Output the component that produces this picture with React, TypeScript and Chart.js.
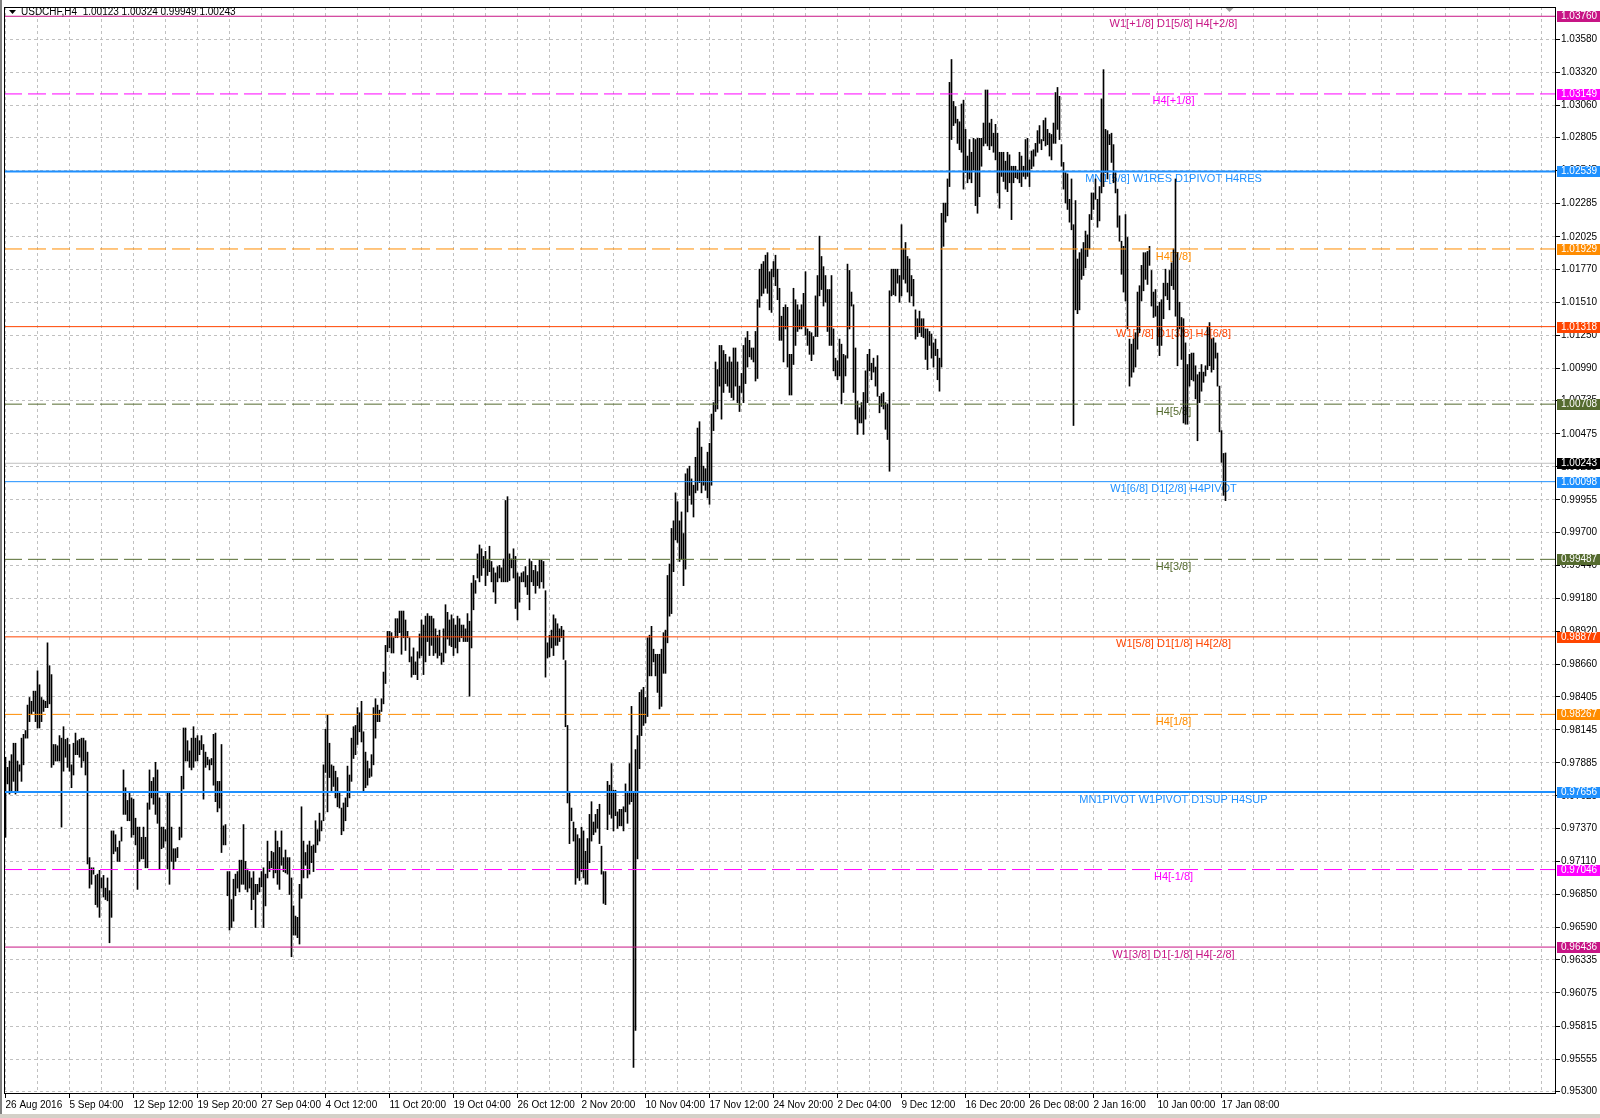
import { useEffect, useRef } from 'react';
import { Chart, registerables } from 'chart.js';

Chart.register(...registerables);

// H4 bars, USDCHF, 26 Aug 2016 .. 17 Jan 2017 (one value per bar)
const highs = [
  0.9793, 0.9785, 0.9790, 0.9795, 0.9804, 0.9804, 0.9790, 0.9787, 0.9808, 0.9811,
  0.9814, 0.9834, 0.9840, 0.9837, 0.9845, 0.9845, 0.9861, 0.9850, 0.9840, 0.9838,
  0.9837, 0.9883, 0.9865, 0.9858, 0.9803, 0.9803, 0.9802, 0.9810, 0.9808, 0.9817,
  0.9807, 0.9808, 0.9803, 0.9787, 0.9804, 0.9812, 0.9806, 0.9807, 0.9808, 0.9808,
  0.9806, 0.9797, 0.9714, 0.9706, 0.9706, 0.9700, 0.9701, 0.9704, 0.9698, 0.9700,
  0.9690, 0.9698, 0.9688, 0.9735, 0.9735, 0.9732, 0.9722, 0.9727, 0.9738, 0.9783,
  0.9769, 0.9759, 0.9765, 0.9761, 0.9760, 0.9745, 0.9738, 0.9738, 0.9730, 0.9738,
  0.9730, 0.9757, 0.9783, 0.9774, 0.9777, 0.9789, 0.9783, 0.9761, 0.9738, 0.9738,
  0.9736, 0.9765, 0.9765, 0.9738, 0.9721, 0.9721, 0.9722, 0.9738, 0.9778, 0.9816,
  0.9816, 0.9806, 0.9798, 0.9808, 0.9817, 0.9808, 0.9810, 0.9806, 0.9810, 0.9803,
  0.9797, 0.9793, 0.9791,
  0.9792, 0.9811, 0.9812, 0.9774, 0.9774, 0.9803, 0.9739, 0.9740, 0.9703, 0.9703,
  0.9681, 0.9697, 0.9701, 0.9703, 0.9712, 0.9712, 0.9740, 0.9711, 0.9705, 0.9703,
  0.9698, 0.9703, 0.9693, 0.9693, 0.9698, 0.9703, 0.9706, 0.9701, 0.9727, 0.9711,
  0.9719, 0.9718, 0.9735, 0.9727, 0.9722, 0.9735, 0.9714, 0.9720, 0.9714, 0.9714,
  0.9698, 0.9676, 0.9668, 0.9667, 0.9693, 0.9754, 0.9727, 0.9718, 0.9724, 0.9727,
  0.9723, 0.9724, 0.9743, 0.9736, 0.9749, 0.9743, 0.9787, 0.9815, 0.9826, 0.9804,
  0.9787, 0.9786, 0.9782, 0.9777, 0.9766, 0.9753, 0.9757, 0.9761, 0.9786, 0.9779,
  0.9808, 0.9817, 0.9818, 0.9832, 0.9828, 0.9837, 0.9813, 0.9797, 0.9790, 0.9784,
  0.9795, 0.9832, 0.9839, 0.9834, 0.9830, 0.9839, 0.9860, 0.9881, 0.9892, 0.9892,
  0.9891, 0.9887, 0.9902, 0.9902, 0.9908, 0.9908, 0.9908, 0.9901, 0.9892, 0.9887,
  0.9872, 0.9879, 0.9868, 0.9876, 0.9890, 0.9901, 0.9897, 0.9904, 0.9906, 0.9904,
  0.9904, 0.9902, 0.9894, 0.9889, 0.9893, 0.9875, 0.9894, 0.9913, 0.9907, 0.9901,
  0.9905, 0.9902, 0.9897, 0.9904, 0.9902, 0.9897, 0.9897, 0.9894, 0.9906, 0.9900,
  0.9930, 0.9936, 0.9932, 0.9953, 0.9960, 0.9957, 0.9951, 0.9955, 0.9948, 0.9959,
  0.9947, 0.9942, 0.9938, 0.9943, 0.9944, 0.9942, 0.9949, 0.9995, 0.9998, 0.9953,
  0.9949, 0.9957, 0.9951, 0.9938, 0.9935, 0.9938, 0.9939, 0.9943, 0.9936, 0.9949,
  0.9947, 0.9940, 0.9944, 0.9939, 0.9948, 0.9948, 0.9947, 0.9924, 0.9883, 0.9889,
  0.9893, 0.9905, 0.9902, 0.9898, 0.9894, 0.9896, 0.9893, 0.9869, 0.9818, 0.9765,
  0.9753, 0.9742, 0.9737, 0.9732, 0.9729, 0.9738, 0.9735, 0.9719, 0.9729, 0.9748,
  0.9758, 0.9742, 0.9748, 0.9752, 0.9756, 0.9723, 0.9703, 0.9703, 0.9774, 0.9771,
  0.9788, 0.9767, 0.9767, 0.9750, 0.9752, 0.9752, 0.9754, 0.9772, 0.9765, 0.9788,
  0.9833, 0.9765, 0.9799, 0.9810, 0.9844, 0.9846, 0.9848, 0.9840, 0.9887, 0.9889,
  0.9896, 0.9878, 0.9874, 0.9874, 0.9874, 0.9878, 0.9891, 0.9893, 0.9936, 0.9945,
  0.9973, 0.9979, 1.0001, 0.9994, 0.9979, 0.9986, 0.9969, 1.0016, 1.0020, 1.0022,
  1.0012, 1.0007, 1.0029, 1.0052, 1.0057, 1.0037, 1.0022, 1.0020, 1.0033, 1.0040,
  1.0063, 1.0072, 1.0104, 1.0098, 1.0117, 1.0117, 1.0113, 1.0110, 1.0104, 1.0108,
  1.0104, 1.0115, 1.0115, 1.0104, 1.0085, 1.0095, 1.0117, 1.0123, 1.0128, 1.0121,
  1.0115, 1.0115, 1.0128, 1.0153, 1.0177, 1.0181, 1.0183, 1.0188, 1.0190, 1.0175,
  1.0177, 1.0183, 1.0188, 1.0177, 1.0162, 1.0140, 1.0147, 1.0149, 1.0147, 1.0110,
  1.0110, 1.0162, 1.0153, 1.0149, 1.0145, 1.0149, 1.0158, 1.0175, 1.0130, 1.0128,
  1.0127, 1.0124, 1.0156, 1.0172, 1.0203, 1.0187, 1.0179, 1.0172, 1.0161, 1.0161,
  1.0172, 1.0130, 1.0107, 1.0105, 1.0122, 1.0118, 1.0110, 1.0109, 1.0181, 1.0176,
  1.0159, 1.0149, 1.0115, 1.0073, 1.0068, 1.0072, 1.0080, 1.0097, 1.0110, 1.0114,
  1.0103, 1.0107, 1.0100, 1.0109, 1.0077, 1.0079, 1.0080, 1.0072, 1.0071, 1.0160,
  1.0177, 1.0177, 1.0177, 1.0177, 1.0172, 1.0212, 1.0193, 1.0198, 1.0187, 1.0185,
  1.0172, 1.0169, 1.0145, 1.0138, 1.0144, 1.0138, 1.0138, 1.0130, 1.0130, 1.0128,
  1.0126, 1.0119, 1.0122, 1.0114, 1.0107, 1.0221, 1.0229, 1.0229, 1.0248, 1.0324,
  1.0342, 1.0309, 1.0305, 1.0295, 1.0293, 1.0307, 1.0310, 1.0287, 1.0266, 1.0279,
  1.0269, 1.0280, 1.0279, 1.0280, 1.0280, 1.0280, 1.0292, 1.0318, 1.0318, 1.0292,
  1.0295, 1.0284, 1.0291, 1.0284, 1.0269, 1.0269, 1.0269, 1.0262, 1.0269, 1.0267,
  1.0258, 1.0258, 1.0258, 1.0255, 1.0269,
  1.0266, 1.0258, 1.0279, 1.0280, 1.0263, 1.0270, 1.0271, 1.0276, 1.0286, 1.0290,
  1.0279, 1.0294, 1.0296, 1.0287, 1.0284, 1.0283, 1.0292, 1.0316, 1.0320, 1.0313,
  1.0275, 1.0261, 1.0253, 1.0252, 1.0232, 1.0248, 1.0212, 1.0231, 1.0185, 1.0190,
  1.0193, 1.0198, 1.0207, 1.0204, 1.0220, 1.0237, 1.0237, 1.0248, 1.0232, 1.0242,
  1.0311, 1.0334, 1.0287, 1.0286, 1.0283, 1.0284, 1.0275, 1.0253, 1.0240, 1.0219,
  1.0199, 1.0195, 1.0220, 1.0202, 1.0122, 1.0118, 1.0122, 1.0127, 1.0159, 1.0164,
  1.0180, 1.0190, 1.0190, 1.0191, 1.0195, 1.0176, 1.0159, 1.0161, 1.0148, 1.0151,
  1.0153, 1.0166, 1.0177, 1.0166, 1.0176, 1.0182, 1.0193, 1.0248, 1.0190, 1.0151,
  1.0139, 1.0138, 1.0119, 1.0102, 1.0110, 1.0111, 1.0111, 1.0101, 1.0094, 1.0096,
  1.0102, 1.0096, 1.0101, 1.0132, 1.0135, 1.0122, 1.0123, 1.0119, 1.0111, 1.0085,
  1.0050, 1.0032, 1.00324,
];

const lows = [
  0.9730, 0.9772, 0.9764, 0.9766, 0.9774, 0.9764, 0.9766, 0.9782, 0.9774, 0.9787,
  0.9808, 0.9808, 0.9821, 0.9827, 0.9829, 0.9821, 0.9816, 0.9816, 0.9821, 0.9829,
  0.9832, 0.9832, 0.9835, 0.9785, 0.9787, 0.9790, 0.9790, 0.9790, 0.9738, 0.9782,
  0.9793, 0.9785, 0.9782, 0.9769, 0.9779, 0.9795, 0.9795, 0.9793, 0.9785, 0.9790,
  0.9779, 0.9709, 0.9690, 0.9693, 0.9701, 0.9677, 0.9675, 0.9667, 0.9690, 0.9683,
  0.9681, 0.9680, 0.9647, 0.9667, 0.9717, 0.9719, 0.9711, 0.9711, 0.9727, 0.9748,
  0.9748, 0.9743, 0.9743, 0.9730, 0.9732, 0.9724, 0.9689, 0.9711, 0.9713, 0.9713,
  0.9706, 0.9706, 0.9752, 0.9761, 0.9756, 0.9748, 0.9741, 0.9705, 0.9721, 0.9722,
  0.9727, 0.9705, 0.9693, 0.9711, 0.9705, 0.9711, 0.9714, 0.9728, 0.9730, 0.9768,
  0.9790, 0.9790, 0.9785, 0.9783, 0.9785, 0.9790, 0.9790, 0.9795, 0.9799, 0.9760,
  0.9785, 0.9787, 0.9783,
  0.9787, 0.9771, 0.9758, 0.9750, 0.9753, 0.9718, 0.9724, 0.9724, 0.9684, 0.9657,
  0.9659, 0.9664, 0.9684, 0.9690, 0.9687, 0.9693, 0.9693, 0.9689, 0.9687, 0.9690,
  0.9673, 0.9681, 0.9659, 0.9685, 0.9687, 0.9691, 0.9659, 0.9676, 0.9698, 0.9703,
  0.9706, 0.9698, 0.9702, 0.9693, 0.9689, 0.9708, 0.9703, 0.9702, 0.9701, 0.9685,
  0.9636, 0.9653, 0.9653, 0.9651, 0.9646, 0.9682, 0.9698, 0.9708, 0.9698, 0.9701,
  0.9710, 0.9703, 0.9718, 0.9724, 0.9727, 0.9735, 0.9743, 0.9781, 0.9750, 0.9777,
  0.9766, 0.9770, 0.9761, 0.9754, 0.9753, 0.9732, 0.9735, 0.9743, 0.9754, 0.9761,
  0.9774, 0.9792, 0.9795, 0.9803, 0.9813, 0.9805, 0.9766, 0.9769, 0.9771, 0.9777,
  0.9778, 0.9787, 0.9808, 0.9821, 0.9821, 0.9829, 0.9835, 0.9851, 0.9876, 0.9879,
  0.9875, 0.9875, 0.9887, 0.9887, 0.9891, 0.9874, 0.9887, 0.9877, 0.9887, 0.9868,
  0.9856, 0.9858, 0.9858, 0.9854, 0.9871, 0.9873, 0.9858, 0.9868, 0.9884, 0.9873,
  0.9881, 0.9873, 0.9875, 0.9871, 0.9873, 0.9866, 0.9868, 0.9875, 0.9886, 0.9881,
  0.9880, 0.9873, 0.9879, 0.9875, 0.9884, 0.9887, 0.9884, 0.9884, 0.9884, 0.9841,
  0.9879, 0.9909, 0.9922, 0.9934, 0.9931, 0.9936, 0.9942, 0.9928, 0.9936, 0.9939,
  0.9931, 0.9923, 0.9914, 0.9931, 0.9934, 0.9931, 0.9931, 0.9931, 0.9931, 0.9932,
  0.9942, 0.9934, 0.9910, 0.9901, 0.9915, 0.9931, 0.9931, 0.9927, 0.9921, 0.9909,
  0.9931, 0.9928, 0.9922, 0.9928, 0.9926, 0.9931, 0.9926, 0.9856, 0.9871, 0.9872,
  0.9879, 0.9873, 0.9881, 0.9881, 0.9884, 0.9887, 0.9870, 0.9817, 0.9757, 0.9725,
  0.9743, 0.9727, 0.9693, 0.9698, 0.9696, 0.9703, 0.9698, 0.9693, 0.9693, 0.9710,
  0.9727, 0.9732, 0.9734, 0.9737, 0.9725, 0.9701, 0.9678, 0.9677, 0.9736, 0.9748,
  0.9745, 0.9735, 0.9747, 0.9737, 0.9739, 0.9739, 0.9735, 0.9750, 0.9741, 0.9756,
  0.9758, 0.9549, 0.9578, 0.9713, 0.9784, 0.9810, 0.9818, 0.9820, 0.9825, 0.9857,
  0.9857, 0.9868, 0.9857, 0.9844, 0.9831, 0.9833, 0.9859, 0.9859, 0.9883, 0.9904,
  0.9906, 0.9939, 0.9964, 0.9962, 0.9947, 0.9949, 0.9928, 0.9941, 0.9986, 0.9999,
  0.9992, 0.9982, 1.0001, 1.0003, 1.0009, 1.0001, 1.0007, 1.0003, 0.9997, 0.9992,
  1.0007, 1.0050, 1.0065, 1.0067, 1.0085, 1.0059, 1.0080, 1.0087, 1.0085, 1.0080,
  1.0076, 1.0074, 1.0085, 1.0072, 1.0065, 1.0080, 1.0072, 1.0087, 1.0100, 1.0108,
  1.0106, 1.0104, 1.0089, 1.0091, 1.0147, 1.0156, 1.0158, 1.0162, 1.0158, 1.0145,
  1.0143, 1.0171, 1.0164, 1.0153, 1.0121, 1.0121, 1.0104, 1.0130, 1.0100, 1.0078,
  1.0078, 1.0102, 1.0117, 1.0128, 1.0130, 1.0130, 1.0132, 1.0125, 1.0117, 1.0110,
  1.0105, 1.0110, 1.0124, 1.0124, 1.0156, 1.0161, 1.0148, 1.0151, 1.0128, 1.0117,
  1.0117, 1.0097, 1.0093, 1.0090, 1.0093, 1.0071, 1.0080, 1.0093, 1.0107, 1.0130,
  1.0148, 1.0080, 1.0059, 1.0047, 1.0056, 1.0056, 1.0047, 1.0059, 1.0072, 1.0097,
  1.0090, 1.0096, 1.0085, 1.0077, 1.0064, 1.0069, 1.0067, 1.0051, 1.0043, 1.0018,
  1.0156, 1.0157, 1.0156, 1.0166, 1.0151, 1.0156, 1.0169, 1.0166, 1.0159, 1.0151,
  1.0156, 1.0148, 1.0122, 1.0124, 1.0127, 1.0124, 1.0123, 1.0106, 1.0098, 1.0117,
  1.0107, 1.0100, 1.0109, 1.0090, 1.0081, 1.0100, 1.0195, 1.0214, 1.0219, 1.0242,
  1.0279, 1.0290, 1.0292, 1.0276, 1.0271, 1.0269, 1.0240, 1.0253, 1.0245, 1.0248,
  1.0245, 1.0255, 1.0227, 1.0221, 1.0234, 1.0258, 1.0274, 1.0276, 1.0274, 1.0271,
  1.0274, 1.0269, 1.0263, 1.0237, 1.0225, 1.0250, 1.0246, 1.0240, 1.0238, 1.0245,
  1.0216, 1.0245, 1.0249, 1.0248, 1.0245,
  1.0242, 1.0250, 1.0248, 1.0250, 1.0242, 1.0256, 1.0258, 1.0266, 1.0269, 1.0276,
  1.0271, 1.0278, 1.0274, 1.0275, 1.0266, 1.0263, 1.0276, 1.0276, 1.0287, 1.0279,
  1.0258, 1.0240, 1.0229, 1.0224, 1.0214, 1.0208, 1.0054, 1.0145, 1.0142, 1.0145,
  1.0169, 1.0172, 1.0178, 1.0187, 1.0193, 1.0216, 1.0224, 1.0232, 1.0210, 1.0215,
  1.0237, 1.0242, 1.0253, 1.0248, 1.0275, 1.0261, 1.0245, 1.0237, 1.0210, 1.0199,
  1.0173, 1.0159, 1.0152, 1.0130, 1.0085, 1.0092, 1.0096, 1.0100, 1.0114, 1.0127,
  1.0152, 1.0160, 1.0169, 1.0165, 1.0180, 1.0148, 1.0139, 1.0140, 1.0117, 1.0109,
  1.0117, 1.0138, 1.0156, 1.0153, 1.0145, 1.0164, 1.0161, 1.0140, 1.0101, 1.0130,
  1.0106, 1.0056, 1.0055, 1.0055, 1.0085, 1.0090, 1.0089, 1.0075, 1.0042, 1.0072,
  1.0081, 1.0088, 1.0093, 1.0098, 1.0101, 1.0096, 1.0098, 1.0107, 1.0085, 1.0049,
  1.0025, 0.9999, 0.99949,
];

// time labels, one every 32 bars
const dateLabels = [
  '26 Aug 2016', '5 Sep 04:00', '12 Sep 12:00', '19 Sep 20:00', '27 Sep 04:00',
  '4 Oct 12:00', '11 Oct 20:00', '19 Oct 04:00', '26 Oct 12:00', '2 Nov 20:00',
  '10 Nov 04:00', '17 Nov 12:00', '24 Nov 20:00', '2 Dec 04:00', '9 Dec 12:00',
  '16 Dec 20:00', '26 Dec 08:00', '2 Jan 16:00', '10 Jan 00:00', '17 Jan 08:00',
];

const priceTicks = [
  1.0358, 1.0332, 1.0306, 1.02805, 1.02545, 1.02285, 1.02025, 1.0177, 1.0151, 1.0125,
  1.0099, 1.00735, 1.00475, 1.00215, 0.99955, 0.997, 0.9944, 0.9918, 0.9892, 0.9866,
  0.98405, 0.98145, 0.97885, 0.97625, 0.9737, 0.9711, 0.9685, 0.9659, 0.96335, 0.96075,
  0.95815, 0.95555, 0.953,
];

// Murrey math levels
const levelPrices = [
  1.0376, 1.03149, 1.02539, 1.01929, 1.01318, 1.00708, 1.00098,
  0.99487, 0.98877, 0.98267, 0.97656, 0.97046, 0.96436,
];
const levelNames = [
  'W1[+1/8] D1[5/8] H4[+2/8]', 'H4[+1/8]', 'MN1[5/8] W1RES D1PIVOT H4RES', 'H4[7/8]',
  'W1[7/8] D1[3/8] H4[6/8]', 'H4[5/8]', 'W1[6/8] D1[2/8] H4PIVOT', 'H4[3/8]',
  'W1[5/8] D1[1/8] H4[2/8]', 'H4[1/8]', 'MN1PIVOT W1PIVOT D1SUP H4SUP', 'H4[-1/8]',
  'W1[3/8] D1[-1/8] H4[-2/8]',
];

const symbol = 'USDCHF,H4';
const lastOhlc = [1.00123, 1.00324, 0.99949, 1.00243];
const bidPrice = 1.00243;

// styles
const levelColors = [
  '#C71585', '#FF00FF', '#1E90FF', '#FF8C00', '#FF4500', '#556B2F', '#1E90FF',
  '#556B2F', '#FF4500', '#FF8C00', '#1E90FF', '#FF00FF', '#C71585',
];
const levelDashed = [false, true, false, true, false, true, false, true, false, true, false, true, false];
const levelWidths = [1, 1, 2, 1, 1, 1, 1, 1, 1, 1, 2, 1, 1];

const FONT = '"Liberation Sans", Arial, sans-serif';
const X_MIN = -0.75;
const X_MAX = 775.25;
const Y_MIN = 0.9528;
const Y_MAX = 1.03833;
const LABEL_BAR = 584;

const overlay = {
  id: 'mt4overlay',
  beforeDatasetsDraw(chart: any) {
    const { ctx, scales } = chart;
    const x = scales.x;
    const y = scales.y;
    ctx.save();
    ctx.font = `11px ${FONT}`;
    ctx.textAlign = 'center';
    ctx.textBaseline = 'top';
    const cx = x.getPixelForValue(LABEL_BAR);
    levelPrices.forEach((p, k) => {
      ctx.fillStyle = levelColors[k];
      ctx.fillText(levelNames[k], cx, y.getPixelForValue(p) + 2);
    });
    ctx.restore();
  },
  afterDraw(chart: any) {
    const { ctx, chartArea, scales } = chart;
    const y = scales.y;
    const { left, right, top, bottom } = chartArea;
    ctx.save();
    // frame
    ctx.strokeStyle = '#000';
    ctx.lineWidth = 1;
    ctx.setLineDash([]);
    ctx.strokeRect(left + 0.5, top + 0.5, right - left - 1, bottom - top - 1);

    // price boxes on the axis
    ctx.font = `10px ${FONT}`;
    ctx.textAlign = 'left';
    ctx.textBaseline = 'middle';
    const drawBox = (p: number, bg: string) => {
      const yc = Math.round(y.getPixelForValue(p));
      ctx.fillStyle = bg;
      ctx.fillRect(right + 1, yc - 5, 43, 11);
      ctx.fillStyle = '#fff';
      ctx.fillText(p.toFixed(5), right + 5, yc + 0.5);
    };
    levelPrices.forEach((p, k) => drawBox(p, levelColors[k]));
    drawBox(bidPrice, '#000');

    // title
    ctx.fillStyle = '#000';
    ctx.beginPath();
    ctx.moveTo(9, 10);
    ctx.lineTo(16, 10);
    ctx.lineTo(12.5, 14);
    ctx.closePath();
    ctx.fill();
    ctx.fillText(`${symbol}  ${lastOhlc.map((v) => v.toFixed(5)).join(' ')}`, 21, 12);

    // chart shift marker
    const sx = scales.x.getPixelForValue(612);
    ctx.fillStyle = '#A0A0A0';
    ctx.beginPath();
    ctx.moveTo(sx - 4, top + 1);
    ctx.lineTo(sx + 4, top + 1);
    ctx.lineTo(sx, top + 5);
    ctx.closePath();
    ctx.fill();

    // window edges
    ctx.fillStyle = '#808080';
    ctx.fillRect(0, 0, 2, bottom + 24);
    ctx.fillStyle = '#D4D0C8';
    ctx.fillRect(0, chart.height - 4, chart.width, 4);
    ctx.restore();
  },
};

export default function App() {
  const chartRef = useRef<HTMLCanvasElement>(null);

  useEffect(() => {
    document.body.style.margin = '0';
    if (!chartRef.current) return;
    const ctx = chartRef.current.getContext('2d');
    if (!ctx) return;

    const bars = highs.map((h, i) => ({ x: i, y: [lows[i], h] }));
    const xTicks: number[] = [];
    for (let v = 0; v <= 768; v += 16) xTicks.push(v);

    const levelSets = levelPrices.map((p, k) => ({
      type: 'line' as const,
      data: [{ x: X_MIN, y: p }, { x: X_MAX, y: p }],
      borderColor: levelColors[k],
      borderWidth: levelWidths[k],
      borderDash: levelDashed[k] ? [18, 6] : [],
      pointRadius: 0,
      fill: false,
      order: 0,
    }));

    const chart = new Chart(ctx, {
      type: 'bar',
      data: {
        datasets: [
          ...levelSets,
          {
            type: 'bar',
            data: bars,
            backgroundColor: '#000',
            borderWidth: 0,
            barThickness: 1,
            order: 1,
          },
          {
            type: 'line',
            data: [{ x: X_MIN, y: bidPrice }, { x: X_MAX, y: bidPrice }],
            borderColor: '#C0C0C0',
            borderWidth: 1,
            pointRadius: 0,
            fill: false,
            order: 2,
          },
        ] as any,
      },
      options: {
        responsive: false,
        animation: false,
        events: [],
        layout: { padding: { left: 4, top: 4, right: 0, bottom: 0 } },
        plugins: {
          legend: { display: false },
          tooltip: { enabled: false },
        },
        scales: {
          x: {
            type: 'linear',
            min: X_MIN,
            max: X_MAX,
            offset: false,
            afterBuildTicks: (scale: any) => {
              scale.ticks = xTicks.map((v) => ({ value: v }));
            },
            afterFit: (scale: any) => {
              scale.height = 24;
            },
            ticks: {
              autoSkip: false,
              maxRotation: 0,
              minRotation: 0,
              align: 'start',
              padding: 1,
              color: '#000',
              font: { family: FONT, size: 10 },
              callback: (value: any) => {
                const v = Number(value);
                return v % 32 === 0 && dateLabels[v / 32] ? dateLabels[v / 32] : '';
              },
            },
            grid: {
              color: '#C0C0C0',
              lineWidth: 1,
              offset: false,
              tickLength: 4,
              tickColor: (c: any) =>
                c.tick && c.tick.value % 32 === 0 && c.tick.value <= 608 ? '#000' : 'rgba(0,0,0,0)',
            },
            border: { display: false, dash: [3, 3] },
          },
          y: {
            type: 'linear',
            position: 'right',
            min: Y_MIN,
            max: Y_MAX,
            afterBuildTicks: (scale: any) => {
              scale.ticks = priceTicks.map((v) => ({ value: v }));
            },
            afterFit: (scale: any) => {
              scale.width = 44;
            },
            ticks: {
              autoSkip: false,
              padding: 1,
              color: '#000',
              font: { family: FONT, size: 10 },
              callback: (value: any) => Number(value).toFixed(5),
            },
            grid: {
              color: '#C0C0C0',
              lineWidth: 1,
              tickLength: 4,
              tickColor: '#000',
            },
            border: { display: false, dash: [3, 3] },
          },
        },
      } as any,
      plugins: [overlay],
    });

    return () => chart.destroy();
  }, []);

  return (
    <div style={{ width: 1600, height: 1118, background: '#fff' }}>
      <canvas ref={chartRef} width={1600} height={1118} style={{ display: 'block' }} />
    </div>
  );
}
